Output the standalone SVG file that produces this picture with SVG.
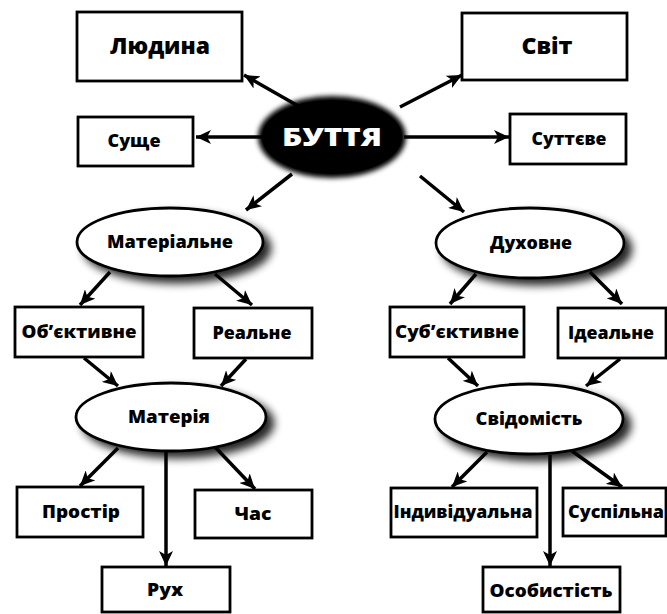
<svg xmlns="http://www.w3.org/2000/svg" width="667" height="614" viewBox="0 0 667 614">
<defs>
<marker id="ah" markerUnits="userSpaceOnUse" markerWidth="16" markerHeight="14" refX="15" refY="7" orient="auto">
<path d="M0,0 L15,7 L0,14 L4,7 Z" fill="#000"/>
</marker>
<filter id="sh" x="-20%" y="-30%" width="150%" height="170%">
<feGaussianBlur in="SourceAlpha" stdDeviation="4" result="b"/>
<feOffset in="b" dx="7" dy="6" result="o"/>
<feComponentTransfer in="o" result="s"><feFuncA type="linear" slope="0.85"/></feComponentTransfer>
<feMerge><feMergeNode in="s"/><feMergeNode in="SourceGraphic"/></feMerge>
</filter>
<filter id="soft" x="-20%" y="-30%" width="140%" height="160%">
<feGaussianBlur stdDeviation="2.5"/>
</filter>
</defs>
<style>
.box{fill:#fff;stroke:#000;stroke-width:2.8}
.ell{fill:#fff;stroke:#000;stroke-width:2.8}
.t{font-family:"Open Sans","DejaVu Sans",sans-serif;font-weight:800;font-size:17px;fill:#000;text-anchor:middle}
.big{font-size:22px}
.w{fill:#fff;font-size:25px}
.c{stroke:#000;stroke-width:3.5;fill:none;marker-end:url(#ah)}
</style>
<rect width="667" height="614" fill="#fff"/>

<g id="connectors">
<line class="c" x1="300" y1="107" x2="244" y2="75"/>
<line class="c" x1="262" y1="137" x2="196" y2="137"/>
<line class="c" x1="400" y1="107" x2="462" y2="75"/>
<line class="c" x1="404" y1="137" x2="509" y2="137"/>
<line class="c" x1="292" y1="174" x2="246" y2="210"/>
<line class="c" x1="420" y1="176" x2="464" y2="212"/>
<line class="c" x1="110" y1="272" x2="80" y2="305"/>
<line class="c" x1="215" y1="274" x2="252" y2="305"/>
<line class="c" x1="476" y1="274" x2="450" y2="304"/>
<line class="c" x1="590" y1="272" x2="622" y2="304"/>
<line class="c" x1="84" y1="358" x2="118" y2="386"/>
<line class="c" x1="246" y1="359" x2="221" y2="386"/>
<line class="c" x1="448" y1="358" x2="478" y2="386"/>
<line class="c" x1="620" y1="359" x2="586" y2="386"/>
<line class="c" x1="118" y1="448" x2="80" y2="486"/>
<line class="c" x1="215" y1="447" x2="255" y2="489"/>
<line class="c" x1="166" y1="451" x2="166" y2="566"/>
<line class="c" x1="487" y1="452" x2="452" y2="487"/>
<line class="c" x1="572" y1="451" x2="622" y2="487"/>
<line class="c" x1="550" y1="455" x2="550" y2="566"/>
</g>

<g id="buttya">
<ellipse cx="332" cy="137" rx="74" ry="41" fill="#000" filter="url(#soft)"/>
<ellipse cx="332" cy="137" rx="70" ry="37" fill="#000"/>
<text class="t w" x="332" y="146" textLength="100" lengthAdjust="spacingAndGlyphs">БУТТЯ</text>
</g>

<g id="lyudyna">
<rect class="box" x="77" y="12" width="165" height="69"/>
<text class="t big" x="160" y="54" textLength="100" lengthAdjust="spacingAndGlyphs">Людина</text>
</g>
<g id="svit">
<rect class="box" x="462" y="13" width="165" height="67"/>
<text class="t big" x="547" y="54" textLength="51" lengthAdjust="spacingAndGlyphs">Світ</text>
</g>
<g id="sushche">
<rect class="box" x="78" y="117" width="115" height="49"/>
<text class="t" x="134" y="147" textLength="53" lengthAdjust="spacingAndGlyphs">Суще</text>
</g>
<g id="suttieve">
<rect class="box" x="510" y="114" width="116" height="50"/>
<text class="t" x="569" y="145" textLength="75" lengthAdjust="spacingAndGlyphs">Суттєве</text>
</g>

<g id="materialne">
<ellipse class="ell" cx="170" cy="242" rx="93" ry="34" filter="url(#sh)"/>
<text class="t" x="170" y="248" textLength="126" lengthAdjust="spacingAndGlyphs">Матеріальне</text>
</g>
<g id="dukhovne">
<ellipse class="ell" cx="530" cy="243" rx="94" ry="35" filter="url(#sh)"/>
<text class="t" x="531" y="249" textLength="82" lengthAdjust="spacingAndGlyphs">Духовне</text>
</g>

<g id="obiektyvne">
<rect class="box" x="15" y="307" width="128" height="50"/>
<text class="t" x="79" y="338" textLength="115" lengthAdjust="spacingAndGlyphs">Об’єктивне</text>
</g>
<g id="realne">
<rect class="box" x="194" y="308" width="118" height="50"/>
<text class="t" x="252" y="339" textLength="79" lengthAdjust="spacingAndGlyphs">Реальне</text>
</g>
<g id="subiektyvne">
<rect class="box" x="390" y="307" width="134" height="50"/>
<text class="t" x="457" y="338" textLength="124" lengthAdjust="spacingAndGlyphs">Суб’єктивне</text>
</g>
<g id="idealne">
<rect class="box" x="558" y="308" width="108" height="50"/>
<text class="t" x="611" y="339" textLength="86" lengthAdjust="spacingAndGlyphs">Ідеальне</text>
</g>

<g id="materiia">
<ellipse class="ell" cx="171" cy="417" rx="95" ry="34" filter="url(#sh)"/>
<text class="t" x="169" y="423" textLength="82" lengthAdjust="spacingAndGlyphs">Матерія</text>
</g>
<g id="svidomist">
<ellipse class="ell" cx="529" cy="419" rx="94" ry="35" filter="url(#sh)"/>
<text class="t" x="529" y="425" textLength="107" lengthAdjust="spacingAndGlyphs">Свідомість</text>
</g>

<g id="prostir">
<rect class="box" x="17" y="487" width="126" height="50"/>
<text class="t" x="81" y="518" textLength="78" lengthAdjust="spacingAndGlyphs">Простір</text>
</g>
<g id="chas">
<rect class="box" x="195" y="490" width="117" height="48"/>
<text class="t" x="253" y="520" textLength="37" lengthAdjust="spacingAndGlyphs">Час</text>
</g>
<g id="rukh">
<rect class="box" x="102" y="567" width="128" height="45"/>
<text class="t" x="165" y="596" textLength="36" lengthAdjust="spacingAndGlyphs">Рух</text>
</g>
<g id="indyvidualna">
<rect class="box" x="391" y="488" width="146" height="49"/>
<text class="t" x="463" y="518" textLength="139" lengthAdjust="spacingAndGlyphs">Індивідуальна</text>
</g>
<g id="suspilna">
<rect class="box" x="563" y="488" width="103" height="48"/>
<text class="t" x="616" y="518" textLength="96" lengthAdjust="spacingAndGlyphs">Суспільна</text>
</g>
<g id="osobystist">
<rect class="box" x="483" y="567" width="137" height="45"/>
<text class="t" x="551" y="597" textLength="123" lengthAdjust="spacingAndGlyphs">Особистість</text>
</g>
</svg>
